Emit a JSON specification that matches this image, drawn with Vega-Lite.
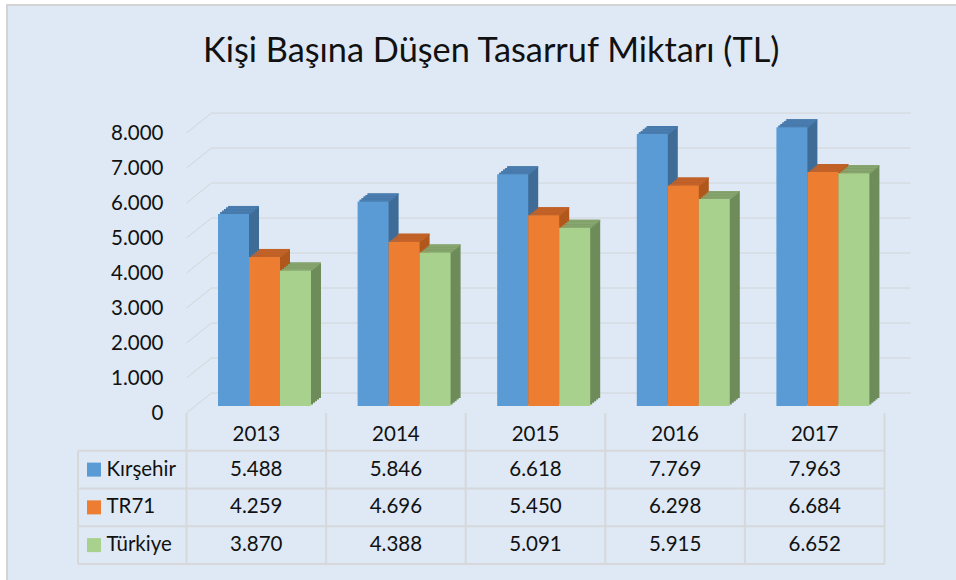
{
  "$schema": "https://vega.github.io/schema/vega-lite/v6.json",
  "width": 952,
  "height": 578,
  "autosize": {"type": "none"},
  "padding": {"left": 7, "top": 5, "right": -3, "bottom": -3},
  "background": "#ffffff",
  "title": {
    "text": "Kişi Başına Düşen Tasarruf Miktarı (TL)",
    "font": "Lato",
    "fontSize": 34.3,
    "fontWeight": "normal",
    "color": "#111111",
    "anchor": "start",
    "frame": "group",
    "baseline": "alphabetic",
    "offset": -91,
    "dx": 196
  },
  "datasets": {
    "vals": [
      {"year": "2013", "series": "Kırşehir", "value": 5488},
      {"year": "2013", "series": "TR71", "value": 4259},
      {"year": "2013", "series": "Türkiye", "value": 3870},
      {"year": "2014", "series": "Kırşehir", "value": 5846},
      {"year": "2014", "series": "TR71", "value": 4696},
      {"year": "2014", "series": "Türkiye", "value": 4388},
      {"year": "2015", "series": "Kırşehir", "value": 6618},
      {"year": "2015", "series": "TR71", "value": 5450},
      {"year": "2015", "series": "Türkiye", "value": 5091},
      {"year": "2016", "series": "Kırşehir", "value": 7769},
      {"year": "2016", "series": "TR71", "value": 6298},
      {"year": "2016", "series": "Türkiye", "value": 5915},
      {"year": "2017", "series": "Kırşehir", "value": 7963},
      {"year": "2017", "series": "TR71", "value": 6684},
      {"year": "2017", "series": "Türkiye", "value": 6652}
    ],
    "ticks": [
      {"t": 0}, {"t": 1000}, {"t": 2000}, {"t": 3000}, {"t": 4000},
      {"t": 5000}, {"t": 6000}, {"t": 7000}, {"t": 8000}
    ]
  },
  "data": {"name": "vals"},
  "layer": [
    {
      "data": {"name": "ticks"},
      "layer": [
        {
          "mark": {"type": "rule", "color": "#d2d4d6", "strokeWidth": 1, "xOffset": 25, "x2Offset": 26, "yOffset": -20},
          "encoding": {
            "x": {"datum": "2013", "type": "nominal", "bandPosition": 0, "scale": {"domain": ["2013", "2014", "2015", "2016", "2017"], "range": [179.5, 877.5], "paddingInner": 0, "paddingOuter": 0}, "axis": null},
            "x2": {"datum": "2017", "bandPosition": 1},
            "y": {"field": "t", "type": "quantitative", "scale": {"domain": [0, 8000], "range": [408, 128], "nice": false, "zero": false}, "axis": null}
          }
        },
        {
          "mark": {"type": "rule", "color": "#d2d4d6", "strokeWidth": 1, "x2Offset": 25, "y2Offset": -20},
          "encoding": {
            "x": {"datum": "2013", "type": "nominal", "bandPosition": 0, "scale": {"domain": ["2013", "2014", "2015", "2016", "2017"], "range": [179.5, 877.5], "paddingInner": 0, "paddingOuter": 0}, "axis": null},
            "x2": {"datum": "2013", "bandPosition": 0},
            "y": {"field": "t", "type": "quantitative", "scale": {"domain": [0, 8000], "range": [408, 128], "nice": false, "zero": false}, "axis": null},
            "y2": {"field": "t"}
          }
        }
      ]
    },
    {
      "layer": [
        {
          "mark": {"type": "bar", "yOffset": -8.6, "y2Offset": -8.6},
          "encoding": {
            "x": {"field": "year", "type": "nominal", "scale": {"domain": ["2013", "2014", "2015", "2016", "2017"], "range": [179.5, 877.5], "paddingInner": 0, "paddingOuter": 0}, "axis": null},
            "xOffset": {"field": "series", "type": "nominal", "scale": {"domain": ["Kırşehir", "TR71", "Türkiye"], "range": [33.5, 126.5], "paddingInner": 0, "paddingOuter": 0}},
            "y": {"field": "value", "type": "quantitative", "scale": {"domain": [0, 8000], "range": [408, 128], "nice": false, "zero": false}, "axis": null},
            "fill": {"field": "series", "type": "nominal", "scale": {"domain": ["Kırşehir", "TR71", "Türkiye"], "range": ["#3f6c97", "#b0581c", "#6e8b5a"]}, "legend": null}
          }
        },
        {
          "mark": {"type": "bar", "yOffset": -10.2, "y2Offset": -10.2},
          "encoding": {
            "x": {"field": "year", "type": "nominal", "scale": {"domain": ["2013", "2014", "2015", "2016", "2017"], "range": [179.5, 877.5], "paddingInner": 0, "paddingOuter": 0}, "axis": null},
            "xOffset": {"field": "series", "type": "nominal", "scale": {"domain": ["Kırşehir", "TR71", "Türkiye"], "range": [35.5, 128.5], "paddingInner": 0, "paddingOuter": 0}},
            "y": {"field": "value", "type": "quantitative", "scale": {"domain": [0, 8000], "range": [408, 128], "nice": false, "zero": false}, "axis": null},
            "fill": {"field": "series", "type": "nominal", "scale": {"domain": ["Kırşehir", "TR71", "Türkiye"], "range": ["#3f6c97", "#b0581c", "#6e8b5a"]}, "legend": null}
          }
        },
        {
          "mark": {"type": "bar", "yOffset": -11.8, "y2Offset": -11.8},
          "encoding": {
            "x": {"field": "year", "type": "nominal", "scale": {"domain": ["2013", "2014", "2015", "2016", "2017"], "range": [179.5, 877.5], "paddingInner": 0, "paddingOuter": 0}, "axis": null},
            "xOffset": {"field": "series", "type": "nominal", "scale": {"domain": ["Kırşehir", "TR71", "Türkiye"], "range": [37.5, 130.5], "paddingInner": 0, "paddingOuter": 0}},
            "y": {"field": "value", "type": "quantitative", "scale": {"domain": [0, 8000], "range": [408, 128], "nice": false, "zero": false}, "axis": null},
            "fill": {"field": "series", "type": "nominal", "scale": {"domain": ["Kırşehir", "TR71", "Türkiye"], "range": ["#3f6c97", "#b0581c", "#6e8b5a"]}, "legend": null}
          }
        },
        {
          "mark": {"type": "bar", "yOffset": -13.4, "y2Offset": -13.4},
          "encoding": {
            "x": {"field": "year", "type": "nominal", "scale": {"domain": ["2013", "2014", "2015", "2016", "2017"], "range": [179.5, 877.5], "paddingInner": 0, "paddingOuter": 0}, "axis": null},
            "xOffset": {"field": "series", "type": "nominal", "scale": {"domain": ["Kırşehir", "TR71", "Türkiye"], "range": [39.5, 132.5], "paddingInner": 0, "paddingOuter": 0}},
            "y": {"field": "value", "type": "quantitative", "scale": {"domain": [0, 8000], "range": [408, 128], "nice": false, "zero": false}, "axis": null},
            "fill": {"field": "series", "type": "nominal", "scale": {"domain": ["Kırşehir", "TR71", "Türkiye"], "range": ["#3f6c97", "#b0581c", "#6e8b5a"]}, "legend": null}
          }
        },
        {
          "mark": {"type": "bar", "yOffset": -15, "y2Offset": -15},
          "encoding": {
            "x": {"field": "year", "type": "nominal", "scale": {"domain": ["2013", "2014", "2015", "2016", "2017"], "range": [179.5, 877.5], "paddingInner": 0, "paddingOuter": 0}, "axis": null},
            "xOffset": {"field": "series", "type": "nominal", "scale": {"domain": ["Kırşehir", "TR71", "Türkiye"], "range": [41.5, 134.5], "paddingInner": 0, "paddingOuter": 0}},
            "y": {"field": "value", "type": "quantitative", "scale": {"domain": [0, 8000], "range": [408, 128], "nice": false, "zero": false}, "axis": null},
            "fill": {"field": "series", "type": "nominal", "scale": {"domain": ["Kırşehir", "TR71", "Türkiye"], "range": ["#3f6c97", "#b0581c", "#6e8b5a"]}, "legend": null}
          }
        }
      ],
      "resolve": {"scale": {"xOffset": "independent"}}
    },
    {
      "layer": [
        {
          "mark": {"type": "bar", "yOffset": -8.6, "y2Offset": -7},
          "encoding": {
            "x": {"field": "year", "type": "nominal", "scale": {"domain": ["2013", "2014", "2015", "2016", "2017"], "range": [179.5, 877.5], "paddingInner": 0, "paddingOuter": 0}, "axis": null},
            "xOffset": {"field": "series", "type": "nominal", "scale": {"domain": ["Kırşehir", "TR71", "Türkiye"], "range": [33.5, 126.5], "paddingInner": 0, "paddingOuter": 0}},
            "y": {"field": "value", "type": "quantitative", "scale": {"domain": [0, 8000], "range": [408, 128], "nice": false, "zero": false}, "axis": null},
            "y2": {"field": "value"},
            "fill": {"field": "series", "type": "nominal", "scale": {"domain": ["Kırşehir", "TR71", "Türkiye"], "range": ["#4a7db0", "#c3632a", "#87a66f"]}, "legend": null}
          }
        },
        {
          "mark": {"type": "bar", "yOffset": -10.2, "y2Offset": -8.6},
          "encoding": {
            "x": {"field": "year", "type": "nominal", "scale": {"domain": ["2013", "2014", "2015", "2016", "2017"], "range": [179.5, 877.5], "paddingInner": 0, "paddingOuter": 0}, "axis": null},
            "xOffset": {"field": "series", "type": "nominal", "scale": {"domain": ["Kırşehir", "TR71", "Türkiye"], "range": [35.5, 128.5], "paddingInner": 0, "paddingOuter": 0}},
            "y": {"field": "value", "type": "quantitative", "scale": {"domain": [0, 8000], "range": [408, 128], "nice": false, "zero": false}, "axis": null},
            "y2": {"field": "value"},
            "fill": {"field": "series", "type": "nominal", "scale": {"domain": ["Kırşehir", "TR71", "Türkiye"], "range": ["#4a7db0", "#c3632a", "#87a66f"]}, "legend": null}
          }
        },
        {
          "mark": {"type": "bar", "yOffset": -11.8, "y2Offset": -10.2},
          "encoding": {
            "x": {"field": "year", "type": "nominal", "scale": {"domain": ["2013", "2014", "2015", "2016", "2017"], "range": [179.5, 877.5], "paddingInner": 0, "paddingOuter": 0}, "axis": null},
            "xOffset": {"field": "series", "type": "nominal", "scale": {"domain": ["Kırşehir", "TR71", "Türkiye"], "range": [37.5, 130.5], "paddingInner": 0, "paddingOuter": 0}},
            "y": {"field": "value", "type": "quantitative", "scale": {"domain": [0, 8000], "range": [408, 128], "nice": false, "zero": false}, "axis": null},
            "y2": {"field": "value"},
            "fill": {"field": "series", "type": "nominal", "scale": {"domain": ["Kırşehir", "TR71", "Türkiye"], "range": ["#4a7db0", "#c3632a", "#87a66f"]}, "legend": null}
          }
        },
        {
          "mark": {"type": "bar", "yOffset": -13.4, "y2Offset": -11.8},
          "encoding": {
            "x": {"field": "year", "type": "nominal", "scale": {"domain": ["2013", "2014", "2015", "2016", "2017"], "range": [179.5, 877.5], "paddingInner": 0, "paddingOuter": 0}, "axis": null},
            "xOffset": {"field": "series", "type": "nominal", "scale": {"domain": ["Kırşehir", "TR71", "Türkiye"], "range": [39.5, 132.5], "paddingInner": 0, "paddingOuter": 0}},
            "y": {"field": "value", "type": "quantitative", "scale": {"domain": [0, 8000], "range": [408, 128], "nice": false, "zero": false}, "axis": null},
            "y2": {"field": "value"},
            "fill": {"field": "series", "type": "nominal", "scale": {"domain": ["Kırşehir", "TR71", "Türkiye"], "range": ["#4a7db0", "#c3632a", "#87a66f"]}, "legend": null}
          }
        },
        {
          "mark": {"type": "bar", "yOffset": -15, "y2Offset": -13.4},
          "encoding": {
            "x": {"field": "year", "type": "nominal", "scale": {"domain": ["2013", "2014", "2015", "2016", "2017"], "range": [179.5, 877.5], "paddingInner": 0, "paddingOuter": 0}, "axis": null},
            "xOffset": {"field": "series", "type": "nominal", "scale": {"domain": ["Kırşehir", "TR71", "Türkiye"], "range": [41.5, 134.5], "paddingInner": 0, "paddingOuter": 0}},
            "y": {"field": "value", "type": "quantitative", "scale": {"domain": [0, 8000], "range": [408, 128], "nice": false, "zero": false}, "axis": null},
            "y2": {"field": "value"},
            "fill": {"field": "series", "type": "nominal", "scale": {"domain": ["Kırşehir", "TR71", "Türkiye"], "range": ["#4a7db0", "#c3632a", "#87a66f"]}, "legend": null}
          }
        }
      ],
      "resolve": {"scale": {"xOffset": "independent"}}
    },
    {
      "mark": {"type": "bar", "yOffset": -7, "y2Offset": -7},
      "encoding": {
        "x": {"field": "year", "type": "nominal", "scale": {"domain": ["2013", "2014", "2015", "2016", "2017"], "range": [179.5, 877.5], "paddingInner": 0, "paddingOuter": 0}, "axis": null},
        "xOffset": {"field": "series", "type": "nominal", "scale": {"domain": ["Kırşehir", "TR71", "Türkiye"], "range": [31.5, 124.5], "paddingInner": 0, "paddingOuter": 0}},
        "y": {
          "field": "value", "type": "quantitative",
          "scale": {"domain": [0, 8000], "range": [408, 128], "nice": false, "zero": false},
          "axis": {"orient": "left", "offset": -180, "labelPadding": 24, "ticks": false, "domain": false, "grid": false, "title": null, "values": [0, 1000, 2000, 3000, 4000, 5000, 6000, 7000, 8000], "format": ",.0f", "labelFont": "Lato", "labelFontSize": 20.5, "labelColor": "#111111"}
        },
        "color": {"field": "series", "type": "nominal", "scale": {"domain": ["Kırşehir", "TR71", "Türkiye"], "range": ["#5b9bd5", "#ed7d31", "#a9d18e"]}, "legend": null}
      }
    },
    {
      "layer": [
        {
          "transform": [{"filter": "datum.year == '2013'"}],
          "mark": {"type": "rule", "color": "#d6d8da", "strokeWidth": 2, "xOffset": -108.5},
          "encoding": {
            "x": {"datum": "2013", "type": "nominal", "bandPosition": 0, "scale": {"domain": ["2013", "2014", "2015", "2016", "2017"], "range": [179.5, 877.5], "paddingInner": 0, "paddingOuter": 0}, "axis": null},
            "x2": {"datum": "2017", "bandPosition": 1},
            "y": {"field": "series", "type": "nominal", "bandPosition": 0, "scale": {"domain": ["Yıl", "Kırşehir", "TR71", "Türkiye"], "range": [408, 559], "paddingInner": 0, "paddingOuter": 0}, "axis": null}
          }
        },
        {
          "transform": [{"filter": "datum.year == '2013' && datum.series == 'Türkiye'"}],
          "mark": {"type": "rule", "color": "#d6d8da", "strokeWidth": 2, "xOffset": -108.5},
          "encoding": {
            "x": {"datum": "2013", "type": "nominal", "bandPosition": 0, "scale": {"domain": ["2013", "2014", "2015", "2016", "2017"], "range": [179.5, 877.5], "paddingInner": 0, "paddingOuter": 0}, "axis": null},
            "x2": {"datum": "2017", "bandPosition": 1},
            "y": {"datum": "Türkiye", "type": "nominal", "bandPosition": 1, "scale": {"domain": ["Yıl", "Kırşehir", "TR71", "Türkiye"], "range": [408, 559], "paddingInner": 0, "paddingOuter": 0}, "axis": null}
          }
        },
        {
          "transform": [{"filter": "datum.series == 'Kırşehir'"}],
          "mark": {"type": "rule", "color": "#d6d8da", "strokeWidth": 2},
          "encoding": {
            "x": {"field": "year", "type": "nominal", "bandPosition": 0, "scale": {"domain": ["2013", "2014", "2015", "2016", "2017"], "range": [179.5, 877.5], "paddingInner": 0, "paddingOuter": 0}, "axis": null},
            "y": {"datum": "Yıl", "type": "nominal", "bandPosition": 0, "scale": {"domain": ["Yıl", "Kırşehir", "TR71", "Türkiye"], "range": [408, 559], "paddingInner": 0, "paddingOuter": 0}, "axis": null},
            "y2": {"datum": "Türkiye", "bandPosition": 1}
          }
        },
        {
          "transform": [{"filter": "datum.year == '2017' && datum.series == 'Türkiye'"}],
          "mark": {"type": "rule", "color": "#d6d8da", "strokeWidth": 2},
          "encoding": {
            "x": {"datum": "2017", "type": "nominal", "bandPosition": 1, "scale": {"domain": ["2013", "2014", "2015", "2016", "2017"], "range": [179.5, 877.5], "paddingInner": 0, "paddingOuter": 0}, "axis": null},
            "y": {"datum": "Yıl", "type": "nominal", "bandPosition": 0, "scale": {"domain": ["Yıl", "Kırşehir", "TR71", "Türkiye"], "range": [408, 559], "paddingInner": 0, "paddingOuter": 0}, "axis": null},
            "y2": {"datum": "Türkiye", "bandPosition": 1}
          }
        },
        {
          "transform": [{"filter": "datum.year == '2013' && datum.series == 'Türkiye'"}],
          "mark": {"type": "rule", "color": "#d6d8da", "strokeWidth": 2, "xOffset": -108.5},
          "encoding": {
            "x": {"datum": "2013", "type": "nominal", "bandPosition": 0, "scale": {"domain": ["2013", "2014", "2015", "2016", "2017"], "range": [179.5, 877.5], "paddingInner": 0, "paddingOuter": 0}, "axis": null},
            "y": {"datum": "Kırşehir", "type": "nominal", "bandPosition": 0, "scale": {"domain": ["Yıl", "Kırşehir", "TR71", "Türkiye"], "range": [408, 559], "paddingInner": 0, "paddingOuter": 0}, "axis": null},
            "y2": {"datum": "Türkiye", "bandPosition": 1}
          }
        },
        {
          "transform": [{"filter": "datum.series == 'Kırşehir'"}],
          "mark": {"type": "text", "font": "Lato", "fontSize": 20.5, "color": "#111111", "baseline": "middle", "dy": 3},
          "encoding": {
            "x": {"field": "year", "type": "nominal", "scale": {"domain": ["2013", "2014", "2015", "2016", "2017"], "range": [179.5, 877.5], "paddingInner": 0, "paddingOuter": 0}, "axis": null},
            "y": {"datum": "Yıl", "type": "nominal", "scale": {"domain": ["Yıl", "Kırşehir", "TR71", "Türkiye"], "range": [408, 559], "paddingInner": 0, "paddingOuter": 0}, "axis": null},
            "text": {"field": "year", "type": "nominal"}
          }
        },
        {
          "mark": {"type": "text", "font": "Lato", "fontSize": 20.5, "color": "#111111", "baseline": "middle"},
          "encoding": {
            "x": {"field": "year", "type": "nominal", "scale": {"domain": ["2013", "2014", "2015", "2016", "2017"], "range": [179.5, 877.5], "paddingInner": 0, "paddingOuter": 0}, "axis": null},
            "y": {"field": "series", "type": "nominal", "scale": {"domain": ["Yıl", "Kırşehir", "TR71", "Türkiye"], "range": [408, 559], "paddingInner": 0, "paddingOuter": 0}, "axis": null},
            "text": {"field": "value", "type": "quantitative", "format": ",.0f"}
          }
        },
        {
          "transform": [{"filter": "datum.year == '2013'"}],
          "mark": {"type": "point", "shape": "square", "size": 196, "filled": true, "opacity": 1, "xOffset": -92.5},
          "encoding": {
            "x": {"datum": "2013", "type": "nominal", "bandPosition": 0, "scale": {"domain": ["2013", "2014", "2015", "2016", "2017"], "range": [179.5, 877.5], "paddingInner": 0, "paddingOuter": 0}, "axis": null},
            "y": {"field": "series", "type": "nominal", "scale": {"domain": ["Yıl", "Kırşehir", "TR71", "Türkiye"], "range": [408, 559], "paddingInner": 0, "paddingOuter": 0}, "axis": null},
            "color": {"field": "series", "type": "nominal", "scale": {"domain": ["Kırşehir", "TR71", "Türkiye"], "range": ["#5b9bd5", "#ed7d31", "#a9d18e"]}, "legend": null}
          }
        },
        {
          "transform": [{"filter": "datum.year == '2013'"}],
          "mark": {"type": "text", "font": "Lato", "fontSize": 20.5, "color": "#111111", "baseline": "middle", "align": "left", "xOffset": -80},
          "encoding": {
            "x": {"datum": "2013", "type": "nominal", "bandPosition": 0, "scale": {"domain": ["2013", "2014", "2015", "2016", "2017"], "range": [179.5, 877.5], "paddingInner": 0, "paddingOuter": 0}, "axis": null},
            "y": {"field": "series", "type": "nominal", "scale": {"domain": ["Yıl", "Kırşehir", "TR71", "Türkiye"], "range": [408, 559], "paddingInner": 0, "paddingOuter": 0}, "axis": null},
            "text": {"field": "series", "type": "nominal"}
          }
        }
      ]
    }
  ],
  "resolve": {"scale": {"y": "independent", "fill": "independent", "xOffset": "independent"}},
  "config": {
    "view": {"fill": "#dee9f5", "stroke": "#d4d4d4", "strokeWidth": 2},
    "font": "Lato",
    "locale": {"number": {"decimal": ",", "thousands": ".", "grouping": [3], "currency": ["₺", ""]}}
  }
}
